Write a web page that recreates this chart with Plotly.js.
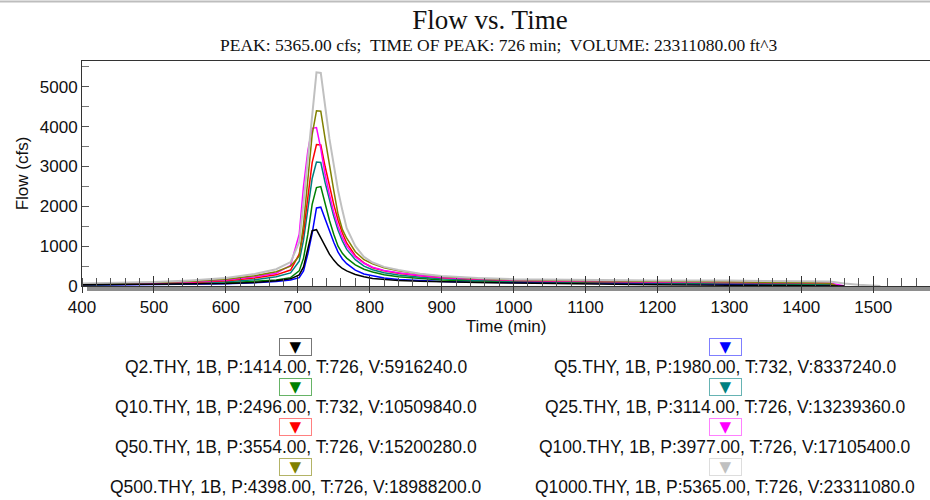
<!DOCTYPE html>
<html>
<head>
<meta charset="utf-8">
<script src="https://cdn.plot.ly/plotly-3.0.1.min.js"></script>
<style>
  html, body { margin: 0; padding: 0; background: #fff; }
  #chart { width: 930px; height: 500px; }
</style>
</head>
<body>
<div id="chart"></div>
<script>
// ---------------- DATA ----------------
const times = [400, 450, 500, 550, 600, 640, 670, 690, 702, 708, 714, 720, 726, 732, 738, 744, 750, 756, 762, 768, 780, 792, 804, 820, 840, 870, 900, 950, 1000, 1100, 1200, 1300, 1400, 1440, 1450, 1460, 1480, 1500, 1510];

const q2    = [30, 35, 40, 50, 60, 90, 130, 180, 280, 480, 950, 1390, 1414, 1220, 990, 800, 650, 530, 440, 380, 290, 230, 190, 160, 140, 120, 100, 85, 75, 50, 30, 20, 15, 10, 5, 0, null, null, null];
const q5    = [20, 25, 30, 40, 55, 80, 110, 150, 210, 380, 810, 1320, 1960, 1980, 1680, 1380, 1100, 850, 680, 560, 400, 300, 250, 200, 165, 135, 115, 95, 85, 72, 60, 45, 35, 25, 0, null, null, null, null];
const q10   = [30, 35, 45, 60, 80, 110, 150, 210, 380, 700, 1300, 2050, 2470, 2496, 2050, 1650, 1300, 1000, 820, 700, 530, 420, 350, 285, 235, 185, 150, 125, 110, 95, 80, 70, 60, 40, 0, null, null, null, null];
const q25   = [35, 42, 55, 75, 105, 160, 230, 330, 620, 1150, 1900, 2700, 3114, 3100, 2600, 2150, 1750, 1400, 1130, 920, 660, 500, 410, 335, 275, 220, 180, 145, 125, 105, 88, 78, 70, 50, 0, null, null, null, null];
const q50   = [40, 50, 65, 90, 130, 200, 280, 400, 800, 1350, 2200, 3100, 3554, 3540, 3000, 2500, 2050, 1650, 1330, 1080, 760, 580, 460, 380, 320, 260, 210, 170, 140, 115, 95, 85, 80, 60, 0, null, null, null, null];
const q100  = [45, 55, 70, 100, 150, 230, 320, 520, 1300, 2500, 3400, 3960, 3977, 3450, 2800, 2300, 1850, 1500, 1220, 1000, 730, 570, 470, 390, 330, 265, 215, 175, 145, 120, 100, 90, 85, 75, 40, 0, null, null, null];
const q500  = [50, 65, 85, 115, 170, 260, 360, 500, 750, 1550, 2700, 3800, 4398, 4390, 3700, 3000, 2400, 1800, 1420, 1200, 860, 660, 560, 460, 380, 300, 240, 190, 160, 130, 110, 100, 90, 70, 0, null, null, null, null];
const q1000 = [60, 75, 100, 140, 200, 300, 420, 600, 1100, 2100, 3200, 4400, 5365, 5350, 4500, 3700, 3050, 2400, 1900, 1450, 1000, 730, 590, 480, 400, 310, 250, 200, 170, 150, 140, 135, 125, 110, 90, 60, 30, 10, 0];

const seriesValues = [q2, q5, q10, q25, q50, q100, q500, q1000];
const seriesColors = ['#000000', '#0000FF', '#008000', '#008080', '#FF0000', '#FF00FF', '#808000', '#C0C0C0'];
const seriesBorders = ['#777777', '#7f7fff', '#66b366', '#66b3b3', '#ff8080', '#ff80ff', '#b3b366', '#dddddd'];
const legendLabels = [
  'Q2.THY, 1B, P:1414.00, T:726, V:5916240.0',
  'Q5.THY, 1B, P:1980.00, T:732, V:8337240.0',
  'Q10.THY, 1B, P:2496.00, T:732, V:10509840.0',
  'Q25.THY, 1B, P:3114.00, T:726, V:13239360.0',
  'Q50.THY, 1B, P:3554.00, T:726, V:15200280.0',
  'Q100.THY, 1B, P:3977.00, T:726, V:17105400.0',
  'Q500.THY, 1B, P:4398.00, T:726, V:18988200.0',
  'Q1000.THY, 1B, P:5365.00, T:726, V:23311080.0'
];
const chartTitle = 'Flow vs. Time';
const chartSubtitle = 'PEAK: 5365.00 cfs;  TIME OF PEAK: 726 min;  VOLUME: 23311080.00 ft^3';

// ---------------- LAYOUT HELPERS ----------------
const W = 930, H = 500, ML = 82, MR = 0, MT = 61, MB = 214;
const PW = W - ML - MR, PH = H - MT - MB;
const px2x = px => (px - ML) / PW;
const py2y = py => (H - MB - py) / PH;
const SANS = 'Liberation Sans, Arial, sans-serif';
const SERIF = 'Liberation Serif, Times New Roman, serif';

const traces = seriesValues.map((vals, i) => ({
  type: 'scatter',
  mode: 'lines',
  x: times,
  y: vals,
  xaxis: i === 0 ? 'x2' : 'x',
  yaxis: 'y',
  line: { color: seriesColors[i], width: i === 7 ? 2 : 1.5 },
  connectgaps: false,
  hoverinfo: 'skip',
  showlegend: false
}));

// legend as annotations (two columns)
const colX = [295.5, 725];
const boxY = [346.7, 386.7, 426.7, 466.7];
const textY = [367, 407, 447, 487];
const annotations = [];
legendLabels.forEach((lab, i) => {
  const c = i % 2, r = Math.floor(i / 2);
  annotations.push({
    xref: 'paper', yref: 'paper', x: px2x(colX[c]), y: py2y(boxY[r]),
    xanchor: 'center', yanchor: 'middle', showarrow: false,
    text: '▼', font: { family: 'DejaVu Sans, sans-serif', size: 15, color: seriesColors[i] },
    bordercolor: seriesBorders[i], borderwidth: 1, borderpad: 0, bgcolor: '#ffffff',
    width: 31, height: 16
  });
  annotations.push({
    xref: 'paper', yref: 'paper', x: px2x(colX[c]), y: py2y(textY[r]),
    xanchor: 'center', yanchor: 'middle', showarrow: false,
    text: lab, font: { family: SANS, size: 17.5, color: '#111111' }
  });
});
annotations.push({
  xref: 'paper', yref: 'paper', x: px2x(498), y: py2y(45),
  xanchor: 'center', yanchor: 'middle', showarrow: false,
  text: chartSubtitle, font: { family: SERIF, size: 17.5, color: '#111' }
});

const shapes = [
  // grey baseline band under the x axis
  { type: 'rect', xref: 'paper', yref: 'paper', x0: px2x(87), x1: 1, y0: py2y(291), y1: py2y(286.5),
    fillcolor: '#8e8e8e', line: { width: 0 }, layer: 'below' },
  // thin grey line at the very top of the image
  { type: 'line', xref: 'paper', yref: 'paper', x0: px2x(0), x1: 1, y0: py2y(1.5), y1: py2y(1.5),
    line: { color: '#bdbdbd', width: 2 } }
];

const layout = {
  width: W, height: H,
  margin: { l: ML, r: MR, t: MT, b: MB, pad: 0 },
  paper_bgcolor: '#ffffff', plot_bgcolor: '#ffffff',
  showlegend: false,
  title: {
    text: chartTitle,
    font: { family: SERIF, size: 27, color: '#111' },
    x: 490 / W, xanchor: 'center', xref: 'container',
    y: 1 - 20 / H, yanchor: 'middle', yref: 'container'
  },
  xaxis: {
    range: [400, 1579], tick0: 0, dtick: 100,
    ticks: 'outside', ticklen: 6, tickwidth: 1, tickcolor: '#333',
    showline: true, linecolor: '#333', linewidth: 1, mirror: true,
    showgrid: false, zeroline: false,
    tickfont: { family: SANS, size: 17, color: '#111111' },
    title: { text: 'Time (min)', font: { family: SANS, size: 17, color: '#111111' }, standoff: 2 },
    minor: { dtick: 20, ticks: 'inside', ticklen: 8, tickwidth: 1, tickcolor: '#555', showgrid: false }
  },
  xaxis2: {
    matches: 'x', overlaying: 'x', anchor: 'y', side: 'bottom',
    tick0: 0, dtick: 100, ticks: 'inside', ticklen: 10, tickwidth: 1, tickcolor: '#333',
    showticklabels: false, showline: false, showgrid: false, zeroline: false
  },
  yaxis: {
    range: [0, 5650], tick0: 0, dtick: 1000,
    ticks: 'inside', ticklen: 7, tickwidth: 1, tickcolor: '#555',
    showline: true, linecolor: '#333', linewidth: 1,
    showgrid: false, zeroline: false,
    tickfont: { family: SANS, size: 17, color: '#111111' },
    title: { text: 'Flow (cfs)', font: { family: SANS, size: 17, color: '#111111' }, standoff: 6 },
    minor: { dtick: 500, ticks: 'inside', ticklen: 7, tickwidth: 1, tickcolor: '#777', showgrid: false }
  },
  annotations: annotations,
  shapes: shapes
};

Plotly.newPlot('chart', traces, layout, { displayModeBar: false, staticPlot: true });
</script>
</body>
</html>
